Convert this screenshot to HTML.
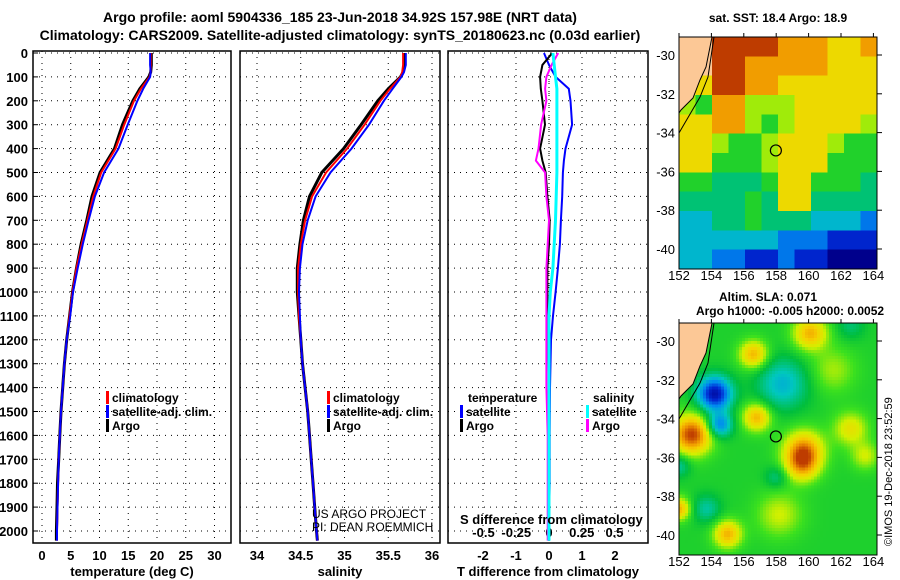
<!DOCTYPE html>
<html><head><meta charset="utf-8">
<style>
body{margin:0;background:#fff;width:900px;height:580px;overflow:hidden;font-family:"Liberation Sans",sans-serif}
svg{position:absolute;left:0;top:0}
canvas{position:absolute}
</style></head><body>
<canvas id="sst" width="12" height="12" style="left:679px;top:37px;width:198px;height:232px;image-rendering:pixelated"></canvas>
<canvas id="sla" width="66" height="77" style="left:679px;top:323px;width:198px;height:232px;image-rendering:pixelated"></canvas>
<svg id="s" width="900" height="580" xmlns="http://www.w3.org/2000/svg" font-family="Liberation Sans, sans-serif" font-weight="bold"></svg>
<script>
const depthT=[0,50,80,100,150,200,300,400,500,600,700,800,900,1000,1100,1200,1300,1400,1500,1600,1700,1800,1900,2000,2040];
const argoT=[19.0,19.0,18.9,18.6,17.0,15.8,14.0,12.6,10.1,8.7,7.8,6.8,6.0,5.3,4.8,4.3,3.9,3.6,3.3,3.1,2.9,2.7,2.6,2.5,2.5];
const climT=[18.9,18.9,18.9,18.7,17.2,16.0,14.3,12.8,10.3,8.9,7.9,6.9,6.0,5.3,4.8,4.3,3.9,3.6,3.3,3.1,2.9,2.8,2.7,2.6,2.6];
const satT=[18.8,18.8,18.9,18.8,17.6,16.6,14.9,13.3,10.8,9.2,8.1,7.1,6.2,5.4,4.9,4.3,3.9,3.6,3.3,3.1,2.9,2.8,2.7,2.6,2.6];
const argoS=[35.69,35.69,35.67,35.64,35.5,35.38,35.19,34.99,34.74,34.6,34.53,34.49,34.46,34.46,34.48,34.5,34.52,34.55,34.58,34.6,34.62,34.64,34.66,34.68,34.69];
const climS=[35.67,35.67,35.66,35.64,35.52,35.41,35.23,35.03,34.79,34.63,34.55,34.5,34.47,34.47,34.48,34.5,34.52,34.55,34.58,34.6,34.62,34.64,34.66,34.68,34.69];
const satS=[35.7,35.7,35.68,35.65,35.55,35.45,35.28,35.08,34.84,34.67,34.58,34.52,34.49,34.48,34.49,34.5,34.52,34.55,34.58,34.6,34.62,34.64,34.66,34.68,34.69];
const dDepth=[0,50,100,150,200,300,400,450,500,600,700,800,900,1000,1100,1200,1400,1600,1800,2000,2040];
const dTsat=[-0.15,0.0,0.2,0.6,0.65,0.7,0.5,0.45,0.42,0.4,0.36,0.33,0.27,0.2,0.12,0.06,0.03,0.02,0.02,0.0,0.0];
const dTargo=[0.1,-0.2,-0.27,-0.25,-0.2,-0.12,-0.27,-0.2,-0.1,-0.05,0.02,0.0,-0.05,-0.05,-0.05,-0.05,0.0,0.0,0.0,0.0,0.0];
const dSsat=[0.03,0.04,0.05,0.06,0.06,0.06,0.06,0.06,0.06,0.055,0.05,0.04,0.03,0.01,0.0,0.0,0.0,0.0,0.0,0.0,0.0];
const dSargo=[0.07,0.02,-0.02,-0.03,-0.02,-0.06,-0.08,-0.1,-0.03,-0.02,0.0,-0.01,-0.02,-0.02,-0.02,-0.02,-0.02,-0.01,-0.01,-0.01,-0.01];
const tTicks=[0,5,10,15,20,25,30];
const sTicks=[34,34.5,35,35.5,36];
const dtTicks=[-2,-1,0,1,2];
const dsTicks=[-0.5,-0.25,0,0.25,0.5];
const depthTicks=[0,100,200,300,400,500,600,700,800,900,1000,1100,1200,1300,1400,1500,1600,1700,1800,1900,2000];
const latTicks=[-30,-32,-34,-36,-38,-40];
const lonTicks=[152,154,156,158,160,162,164];
const sstGrid=["LL9999888778","LL9988888777","L79988777777","658866677777","778865677776","776556777655","775556777555","554445775554","444454774444","334454443332","333333222111","332211211000"];
const slaLon=[154.2,154.5,152.8,159.7,159.6,158.4,156.6,160.1,156.8,155.0,153.7,158.0,152.0,152.0,162.6,162.6,163.5,158.2,161.5];
const slaLat=[-32.7,-34.3,-34.8,-35.6,-36.4,-32.2,-30.7,-29.6,-33.9,-39.9,-38.6,-37.0,-36.4,-38.6,-29.2,-34.5,-35.9,-38.9,-31.5];
const slaAmp=[-0.5,-0.32,0.45,0.35,0.25,-0.22,0.3,0.3,0.3,0.3,-0.15,-0.12,-0.15,0.3,-0.1,0.2,0.15,0.15,0.12];
const slaRad=[0.6,0.45,0.7,0.7,0.6,0.9,0.5,0.6,0.5,0.5,0.5,0.4,0.4,0.4,0.5,0.6,0.5,0.8,0.8];

const S=document.getElementById('s');const NS='http://www.w3.org/2000/svg';
function el(t,a,p){const e=document.createElementNS(NS,t);for(const k in a)e.setAttribute(k,a[k]);(p||S).appendChild(e);return e;}
function tx(x,y,s,o,name){const e=el('text',Object.assign({x:x,y:y,'font-size':13},o||{}));e.textContent=s;

return e;}
const pTop=51,pBot=543;
const yD=d=>53+d*0.239;
const xT=v=>42+v*5.75;
const xS=v=>257+(v-34)*87.5;
const xDT=v=>549+v*33;
const xDS=v=>549+v*131;
const panels=[[33,231],[240,440],[448,648]];
panels.forEach((p,i)=>{
 const r=el('rect',{x:p[0],y:pTop,width:p[1]-p[0],height:pBot-pTop,fill:'none',stroke:'#000','stroke-width':1.5});
 
 
 depthTicks.forEach(d=>{el('line',{x1:p[0],x2:p[1],y1:yD(d),y2:yD(d),stroke:'#000','stroke-dasharray':'1 5'});});
});
depthTicks.forEach(d=>{tx(28,yD(d)+5,String(d),{'text-anchor':'end'},'depth-tick-label');el('line',{x1:33,x2:38,y1:yD(d),y2:yD(d),stroke:'#000'});});
tTicks.forEach(v=>{el('line',{x1:xT(v),x2:xT(v),y1:pTop,y2:pBot,stroke:'#000','stroke-dasharray':'1 5'});tx(xT(v),560,String(v),{'text-anchor':'middle'},'temperature-tick-label');});
sTicks.forEach(v=>{el('line',{x1:xS(v),x2:xS(v),y1:pTop,y2:pBot,stroke:'#000','stroke-dasharray':'1 5'});tx(xS(v),560,String(v),{'text-anchor':'middle'},'salinity-tick-label');});
dtTicks.forEach(v=>{el('line',{x1:xDT(v),x2:xDT(v),y1:pTop,y2:pBot,stroke:'#000','stroke-dasharray':'1 5'});tx(xDT(v),560,String(v),{'text-anchor':'middle'},'tdiff-tick-label');});
dsTicks.forEach(v=>{tx(xDS(v),537,String(v),{'text-anchor':'middle'},'sdiff-tick-label');});
function line(xs,ds,fx,col,w,name){const pts=xs.map((v,i)=>fx(v).toFixed(1)+','+yD(ds[i]).toFixed(1)).join(' ');
 const e=el('polyline',{points:pts,fill:'none',stroke:col,'stroke-width':w});
 
 }
line(argoT,depthT,xT,'#000',3,'argo-temperature-line');
line(climT,depthT,xT,'#f00',2,'climatology-temperature-line');
line(satT,depthT,xT,'#00f',2,'satellite-temperature-line');
line(argoS,depthT,xS,'#000',3,'argo-salinity-line');
line(climS,depthT,xS,'#f00',2,'climatology-salinity-line');
line(satS,depthT,xS,'#00f',2,'satellite-salinity-line');
el('line',{x1:549,x2:549,y1:pTop,y2:pBot,stroke:'#000','stroke-dasharray':'1 3'});
line(dTsat,dDepth,xDT,'#00f',2,'satellite-tdiff-line');
line(dTargo,dDepth,xDT,'#000',2,'argo-tdiff-line');
line(dSargo,dDepth,xDS,'#f0f',2,'argo-sdiff-line');
line(dSsat,dDepth,xDS,'#0ff',3,'satellite-sdiff-line');
function leg(x,y,col,label,name){el('rect',{x:x,y:y-11,width:3,height:13,fill:col});tx(x+6,y,label,{'font-size':12},name);}
leg(106,402,'#f00','climatology','legend-climatology');leg(106,416,'#00f','satellite-adj. clim.','legend-satellite');leg(106,430,'#000','Argo','legend-argo');
leg(327,402,'#f00','climatology','legend-climatology-2');leg(327,416,'#00f','satellite-adj. clim.','legend-satellite-2');leg(327,430,'#000','Argo','legend-argo-2');
tx(468,402,'temperature',{'font-size':12},'legend-temperature-title');leg(460,416,'#00f','satellite','legend-t-satellite');leg(460,430,'#000','Argo','legend-t-argo');
tx(593,402,'salinity',{'font-size':12},'legend-salinity-title');leg(586,416,'#0ff','satellite','legend-s-satellite');leg(586,430,'#f0f','Argo','legend-s-argo');
tx(312,518,'US ARGO PROJECT',{'font-weight':'normal','font-size':12},'project-credit');
tx(312,531,'PI: DEAN ROEMMICH',{'font-weight':'normal','font-size':12},'pi-credit');
tx(460,524,'S difference from climatology',{},'sdiff-axis-title');
tx(132,576,'temperature (deg C)',{'text-anchor':'middle'},'temperature-axis-title');
tx(340,576,'salinity',{'text-anchor':'middle'},'salinity-axis-title');
tx(548,576,'T difference from climatology',{'text-anchor':'middle'},'tdiff-axis-title');
tx(340,22,'Argo profile: aoml 5904336_185 23-Jun-2018 34.92S 157.98E (NRT data)',{'text-anchor':'middle','font-size':14},'title-line-1');
tx(340,40,'Climatology: CARS2009. Satellite-adjusted climatology: synTS_20180623.nc (0.03d earlier)',{'text-anchor':'middle','font-size':14},'title-line-2');
const cm=[[0,[0,0,140]],[0.12,[0,40,210]],[0.25,[0,140,240]],[0.37,[0,200,190]],[0.5,[0,190,60]],[0.6,[60,225,30]],[0.7,[210,240,0]],[0.8,[245,210,0]],[0.9,[240,150,0]],[1,[190,60,0]]];
function col(v){v=Math.max(0,Math.min(1,v));for(let i=1;i<cm.length;i++){if(v<=cm[i][0]){const a=cm[i-1],b=cm[i],t=(v-a[0])/(b[0]-a[0]);return 'rgb('+a[1].map((c,k)=>Math.round(c+(b[1][k]-c)*t)).join(',')+')';}}return 'rgb(190,60,0)';}
(function(){const c=document.getElementById('sst').getContext('2d');sstGrid.forEach((r,j)=>{[...r].forEach((ch,i)=>{c.fillStyle=ch==='L'?'#fcc896':col(+ch/9);c.fillRect(i,j,1,1);});});})();
(function(){const c=document.getElementById('sla').getContext('2d');
 for(let j=0;j<77;j++)for(let i=0;i<66;i++){
  const lon=152+(i+0.5)*3/16.2, lat=-29.07-(j+0.5)*3/19.4;
  let v=0.55;
  for(let k=0;k<slaLon.length;k++){const dx=(lon-slaLon[k])*0.82,dy=lat-slaLat[k];v+=slaAmp[k]*Math.exp(-(dx*dx+dy*dy)/(2*slaRad[k]*slaRad[k]));}
  c.fillStyle=col(v);c.fillRect(i,j,1,1);}
})();
[[37,'sst'],[323,'sla']].forEach(([y0,nm])=>{
 const yL=l=>y0+18+(-30-l)*19.4, xL=l=>679+(l-152)*16.2;
 el('path',{d:`M679,${y0} L712,${y0} L706,${y0+30} L700,${y0+43} L693,${y0+61} L681,${y0+73} L679,${y0+76} Z`,fill:'#fcc896',stroke:'#000'});
 el('path',{d:`M679,${y0+96} L700,${y0+60} L708,${y0+40} L714,${y0}`,fill:'none',stroke:'#000'});
 el('rect',{x:679,y:y0,width:198,height:232,fill:'none',stroke:'#000'});
 const c=el('circle',{cx:xL(157.98),cy:yL(-34.92),r:5.5,fill:'none',stroke:'#000','stroke-width':1.2});
 
 
 latTicks.forEach(l=>{tx(675,yL(l)+5,String(l),{'text-anchor':'end','font-weight':'normal'},'lat-tick-label');el('line',{x1:877,x2:882,y1:yL(l),y2:yL(l),stroke:'#000'});});
 lonTicks.forEach(l=>{tx(xL(l),y0+243,String(l),{'text-anchor':'middle','font-weight':'normal'},'lon-tick-label');el('line',{x1:xL(l),x2:xL(l),y1:y0-4,y2:y0,stroke:'#000'});});
});
tx(778,22,'sat. SST: 18.4 Argo: 18.9',{'text-anchor':'middle','font-size':12},'sst-map-title');
tx(768,301,'Altim. SLA: 0.071',{'text-anchor':'middle','font-size':12},'sla-map-title');
tx(790,315,'Argo h1000: -0.005 h2000: 0.0052',{'text-anchor':'middle','font-size':12},'sla-map-subtitle');
tx(0,0,'©IMOS 19-Dec-2018 23:52:59',{'font-weight':'normal','font-size':11,transform:'translate(892,546) rotate(-90)'},'imos-credit');
</script>
</body></html>
